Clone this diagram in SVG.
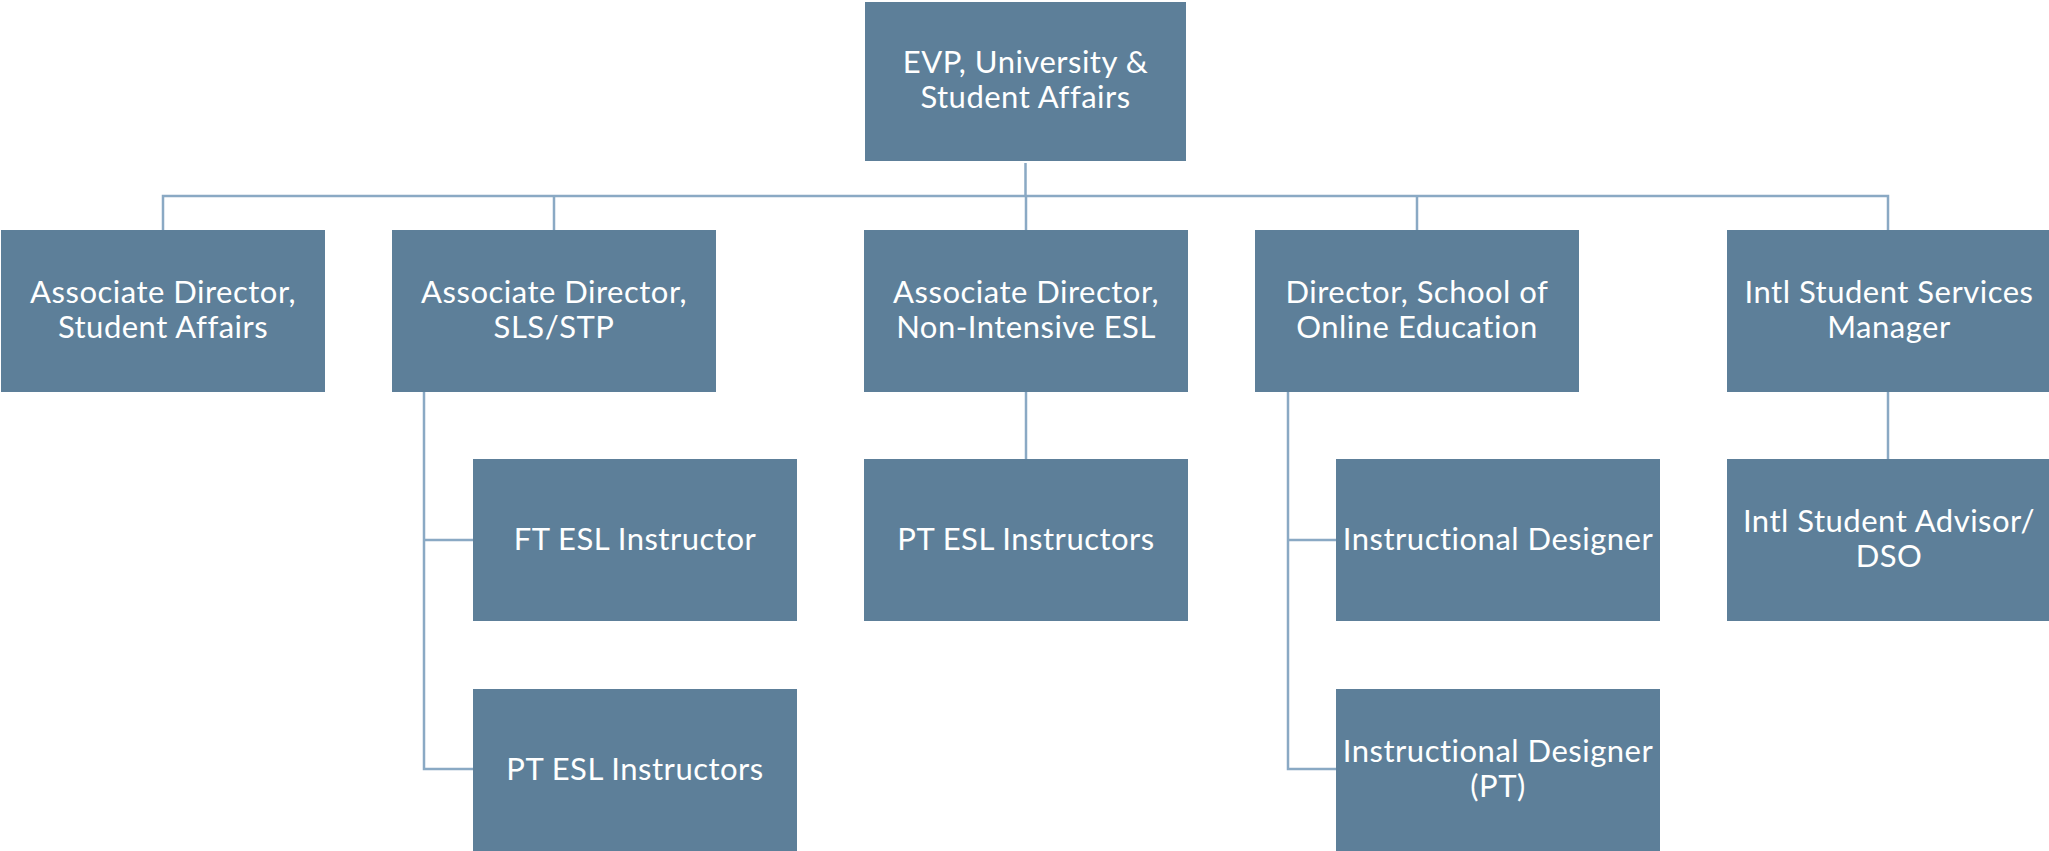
<svg xmlns="http://www.w3.org/2000/svg" width="2049" height="851" viewBox="0 0 2049 851">
<style>
.box{fill:#5D7F99}
.t{fill:#FFFFFF;font-family:Lato,"Open Sans","Liberation Sans",sans-serif;font-size:31px;letter-spacing:0.5px;text-anchor:middle;font-variant-ligatures:none}
.c{stroke:#8AA9C4;stroke-width:2.5;fill:none}
</style>
<rect width="2049" height="851" fill="#FFFFFF"/>
<g id="connectors">
<path class="c" d="M1025.5 163 V196 M163 230 V196 H1888 V230 M554 196 V230 M1026 196 V230 M1417 196 V230"/>
<path class="c" d="M424 392 V769 H473 M424 540 H473"/>
<path class="c" d="M1026 392 V459"/>
<path class="c" d="M1288 392 V769 H1336 M1288 540 H1336"/>
<path class="c" d="M1888 392 V459"/>
</g>
<g id="evp"><rect class="box" x="865" y="2" width="321" height="159"/><text class="t" x="1025.5" y="73">EVP, University &amp;</text><text class="t" x="1025.5" y="108">Student Affairs</text></g>
<g id="ad-student-affairs"><rect class="box" x="1" y="230" width="324" height="162"/><text class="t" x="163" y="303">Associate Director,</text><text class="t" x="163" y="338">Student Affairs</text></g>
<g id="ad-sls"><rect class="box" x="392" y="230" width="324" height="162"/><text class="t" x="554" y="303">Associate Director,</text><text class="t" x="554" y="338">SLS/STP</text></g>
<g id="ad-esl"><rect class="box" x="864" y="230" width="324" height="162"/><text class="t" x="1026" y="303">Associate Director,</text><text class="t" x="1026" y="338">Non-Intensive ESL</text></g>
<g id="dir-online"><rect class="box" x="1255" y="230" width="324" height="162"/><text class="t" x="1417" y="303">Director, School of</text><text class="t" x="1417" y="338">Online Education</text></g>
<g id="intl-manager"><rect class="box" x="1727" y="230" width="324" height="162"/><text class="t" x="1889" y="303">Intl Student Services</text><text class="t" x="1889" y="338">Manager</text></g>
<g id="ft-esl"><rect class="box" x="473" y="459" width="324" height="162"/><text class="t" x="635" y="550">FT ESL Instructor</text></g>
<g id="pt-esl-1"><rect class="box" x="473" y="689" width="324" height="162"/><text class="t" x="635" y="780">PT ESL Instructors</text></g>
<g id="pt-esl-2"><rect class="box" x="864" y="459" width="324" height="162"/><text class="t" x="1026" y="550">PT ESL Instructors</text></g>
<g id="inst-designer"><rect class="box" x="1336" y="459" width="324" height="162"/><text class="t" x="1498" y="550">Instructional Designer</text></g>
<g id="inst-designer-pt"><rect class="box" x="1336" y="689" width="324" height="162"/><text class="t" x="1498" y="762">Instructional Designer</text><text class="t" x="1498" y="797">(PT)</text></g>
<g id="intl-advisor"><rect class="box" x="1727" y="459" width="324" height="162"/><text class="t" x="1889" y="532">Intl Student Advisor/</text><text class="t" x="1889" y="567">DSO</text></g>
</svg>
